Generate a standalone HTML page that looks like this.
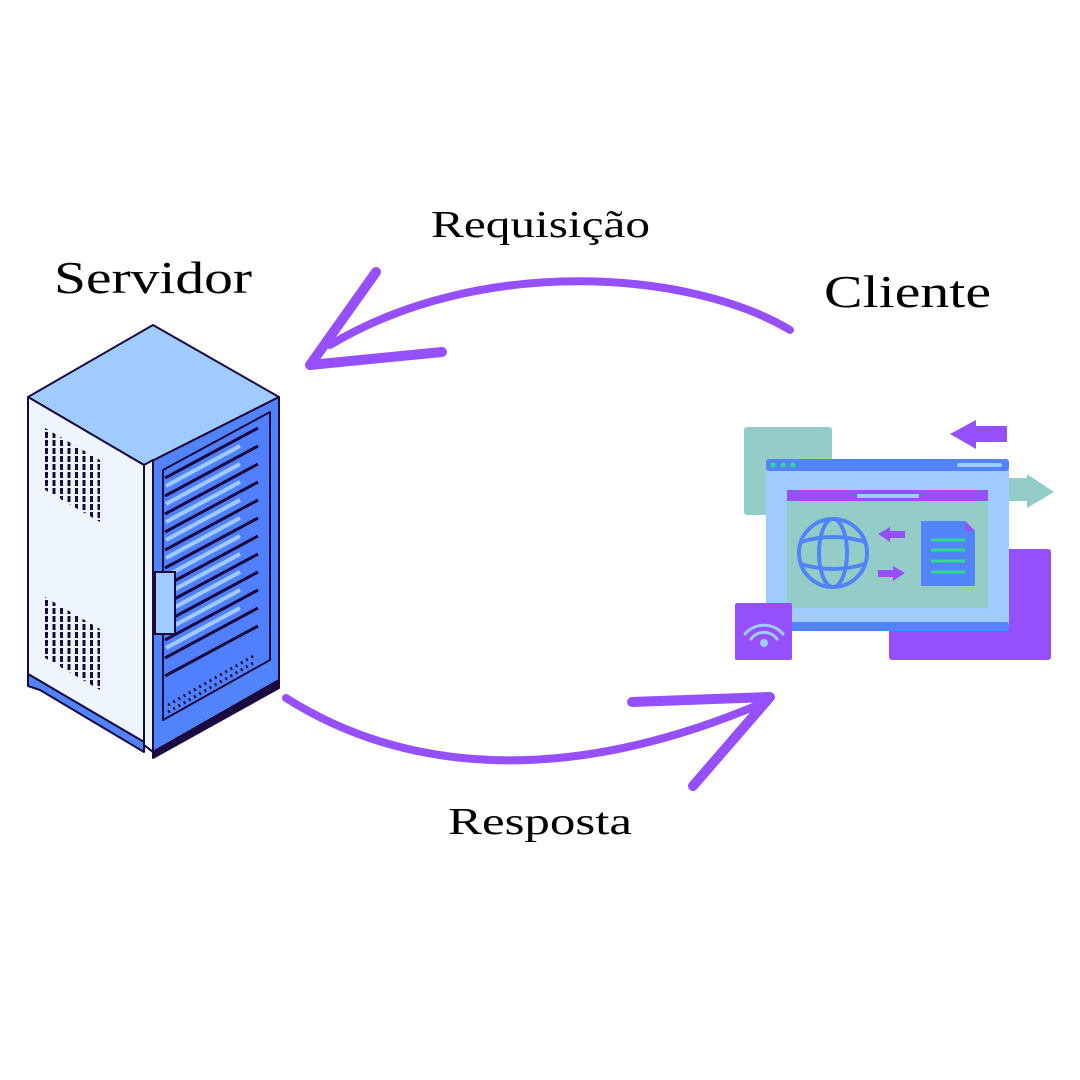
<!DOCTYPE html>
<html><head><meta charset="utf-8"><style>
html,body{margin:0;padding:0;background:#fff;}
svg{display:block}
text{font-family:"Liberation Serif",serif;fill:#000}
</style></head><body>
<svg width="1080" height="1080" viewBox="0 0 1080 1080" xmlns="http://www.w3.org/2000/svg">
<rect width="1080" height="1080" fill="#fff"/>
<text x="54" y="293" font-size="46" textLength="198" lengthAdjust="spacingAndGlyphs">Servidor</text>
<text x="824" y="307" font-size="46" textLength="167" lengthAdjust="spacingAndGlyphs">Cliente</text>
<text x="431" y="237" font-size="38" textLength="219" lengthAdjust="spacingAndGlyphs">Requisição</text>
<text x="448" y="834" font-size="38" textLength="184" lengthAdjust="spacingAndGlyphs">Resposta</text>

<g fill="none" stroke="#9650fb" stroke-linecap="round" stroke-linejoin="round">
<path d="M790 330 C690 270 480 255 330 345" stroke-width="8"/>
<path d="M376 272 L310 365 L442 352" stroke-width="10"/>
<path d="M286 698 C400 770 560 790 765 702" stroke-width="8"/>
<path d="M632 702 L770 697 L693 786" stroke-width="10"/>
</g>

<g stroke="#1a0a40" stroke-width="2" stroke-linejoin="round">
<polygon points="28,397 153,325 279,397 144,465" fill="#a0cbfd"/>
<polygon points="28,397 144,465 144,742 28,674" fill="#eef5ff"/>
<polygon points="28,674 144,742 144,752 40,690 28,686" fill="#5183fb"/>
<polygon points="144,465 279,397 279,680 153,752 144,745" fill="#5183fb"/>
<polygon points="144,465 153,460 153,752 144,745" fill="#eef5ff"/>
<polygon points="163,470 270,412 270,660 163,720" fill="#5080ff"/>
<polygon points="153,752 279,680 279,688 153,758" fill="#1a0a40"/>
</g>
<g stroke="#1a0a40" stroke-width="3">
<path d="M165 478 L258 428 M165 496 L258 446 M165 514 L258 464 M165 532 L258 482 M165 550 L258 500 M165 568 L258 518 M165 586 L258 536 M165 604 L258 554 M165 622 L258 572 M165 640 L258 590 M165 658 L258 608 M165 676 L258 626"/>
</g>
<g stroke="#a0cbfd" stroke-width="4">
<path d="M166 486 L240 446 M166 504 L240 464 M166 522 L240 482 M166 540 L240 500 M166 558 L240 518 M166 576 L240 536 M166 594 L240 554 M166 612 L240 572 M166 630 L240 590 M166 648 L240 608"/>
</g>
<g stroke="#1a0a40" stroke-width="3" stroke-dasharray="2 4">
<path d="M168 705 L255 655 M168 712 L255 662"/>
</g>
<rect x="155" y="572" width="20" height="62" fill="#a0cbfd" stroke="#1a0a40" stroke-width="2"/>
<pattern id="g" width="7.5" height="8" patternUnits="userSpaceOnUse"><rect width="3" height="6" fill="#1a0a40"/></pattern>
<polygon points="45,428 100,460 100,522 45,490" fill="url(#g)"/>
<polygon points="45,597 100,629 100,690 45,658" fill="url(#g)"/>

<rect x="744" y="427" width="88" height="88" rx="3" fill="#94cdc8"/>
<rect x="889" y="549" width="162" height="111" rx="3" fill="#9650fb"/>
<polygon points="1007,478 1027,478 1027,474 1054,492 1027,508 1027,501 1007,501" fill="#94cdc8"/>
<polygon points="950,434 976,420 976,426 1007,426 1007,442 976,442 976,449" fill="#9650fb"/>
<rect x="766" y="459" width="243" height="172" rx="3" fill="#a0cbfd"/>
<rect x="766" y="459" width="243" height="12" rx="3" fill="#5183fb"/>
<rect x="766" y="622" width="243" height="9" rx="3" fill="#5183fb"/>
<circle cx="773" cy="465" r="2.5" fill="#2ddc8c"/><circle cx="783" cy="465" r="2.5" fill="#2ddc8c"/><circle cx="793" cy="465" r="2.5" fill="#2ddc8c"/>
<rect x="957" y="463" width="45" height="4" rx="2" fill="#a0cbfd"/>
<rect x="787" y="490" width="201" height="118" fill="#94cdc8"/>
<rect x="787" y="490" width="201" height="11" fill="#9650fb"/>
<rect x="857" y="494" width="62" height="4" fill="#a0cbfd"/>
<g fill="none" stroke="#5183fb" stroke-width="4">
<circle cx="833" cy="553" r="34"/>
<ellipse cx="833" cy="553" rx="14" ry="34"/>
<path d="M801 542 Q833 532 865 542 M801 564 Q833 574 865 564"/>
</g>
<polygon points="878,534 890,527 890,531 905,531 905,538 890,538 890,542" fill="#9650fb"/>
<polygon points="905,573 893,566 893,570 878,570 878,577 893,577 893,581" fill="#9650fb"/>
<polygon points="921,521 965,521 975,531 975,586 921,586" fill="#5183fb"/>
<polygon points="965,521 975,531 965,531" fill="#9650fb"/>
<g stroke="#2ddc8c" stroke-width="3"><path d="M931 540 H965 M931 550 H965 M931 561 H965 M931 572 H965"/></g>
<rect x="735" y="603" width="57" height="57" rx="2" fill="#9650fb"/>
<g fill="none" stroke="#a0cbfd" stroke-width="3" stroke-linecap="round">
<path d="M745 634 A25 25 0 0 1 783 634"/><path d="M751 639 A16 16 0 0 1 777 639"/>
</g>
<circle cx="764" cy="643" r="4" fill="#a0cbfd"/>
</svg>
</body></html>
